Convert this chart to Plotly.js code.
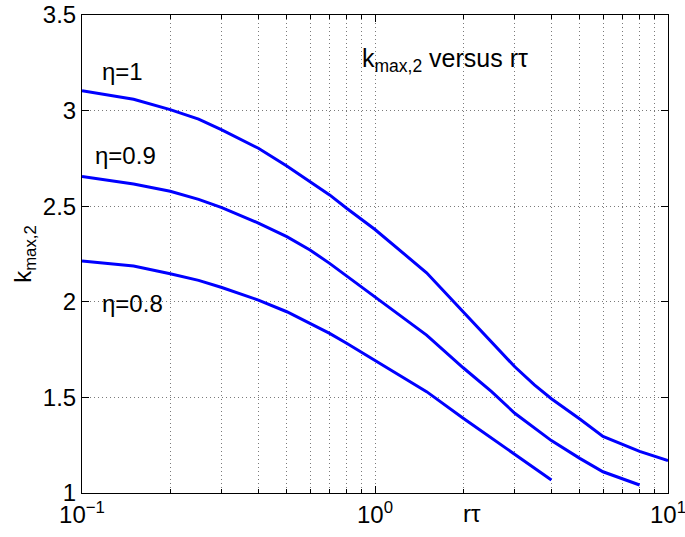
<!DOCTYPE html>
<html>
<head>
<meta charset="utf-8">
<script src="https://cdn.plot.ly/plotly-3.0.1.min.js"></script>
<style>html,body{margin:0;padding:0;background:#fff;}#chart{width:685px;height:537px;}</style>
</head>
<body>
<div id="chart"></div>
<script>
// Data
const x_eta1  = [0.1, 0.15, 0.2, 0.25, 0.3, 0.4, 0.5, 0.6, 0.7, 0.8, 0.9, 1, 1.5, 2, 2.5, 3, 3.5, 4, 5, 6, 8, 10];
const k_eta1  = [3.104, 3.059, 3.005, 2.955, 2.899, 2.803, 2.71, 2.628, 2.559, 2.489, 2.432, 2.378, 2.152, 1.95, 1.788, 1.66, 1.565, 1.493, 1.387, 1.296, 1.218, 1.169];
const x_eta09 = [0.1, 0.15, 0.2, 0.25, 0.3, 0.4, 0.5, 0.6, 0.7, 0.8, 0.9, 1, 1.5, 2, 2.5, 3, 3.5, 4, 5, 6, 8];
const k_eta09 = [2.656, 2.616, 2.578, 2.536, 2.493, 2.412, 2.341, 2.271, 2.201, 2.135, 2.08, 2.028, 1.826, 1.655, 1.53, 1.417, 1.338, 1.274, 1.181, 1.111, 1.042];
const x_eta08 = [0.1, 0.15, 0.2, 0.25, 0.3, 0.4, 0.5, 0.6, 0.7, 0.8, 0.9, 1, 1.5, 2, 2.5, 3, 3.5, 4];
const k_eta08 = [2.213, 2.187, 2.147, 2.112, 2.075, 2.009, 1.948, 1.887, 1.835, 1.783, 1.736, 1.695, 1.53, 1.391, 1.286, 1.199, 1.129, 1.068];

const xMajorTicks = [0.1, 1, 10];
const xMajorText  = ['10<sup>\u22121</sup>', '10<sup>0</sup>', '10<sup>1</sup>'];
const xMinorTicks = [0.2, 0.3, 0.4, 0.5, 0.6, 0.7, 0.8, 0.9, 2, 3, 4, 5, 6, 7, 8, 9];
const yTicks = [1, 1.5, 2, 2.5, 3, 3.5];
const yText  = ['1', '1.5', '2', '2.5', '3', '3.5'];

const curveLabels = ['\u03b7=1', '\u03b7=0.9', '\u03b7=0.8'];

const FONT = 'Liberation Sans, Arial, Helvetica, sans-serif';
const FS = 24;
const lineStyle = {color: '#0000ff', width: 3};

const traces = [
  {x: x_eta1, y: k_eta1, mode: 'lines', line: lineStyle, name: curveLabels[0]},
  {x: x_eta09, y: k_eta09, mode: 'lines', line: lineStyle, name: curveLabels[1]},
  {x: x_eta08, y: k_eta08, mode: 'lines', line: lineStyle, name: curveLabels[2]}
];

const annFont = {family: FONT, size: FS, color: '#000'};
const gridDash = '1px,3px';
const gridColor = '#7a7a7a';
const layout = {
  width: 685, height: 537,
  margin: {l: 82, r: 17, t: 15, b: 44},
  paper_bgcolor: '#fff', plot_bgcolor: '#fff',
  showlegend: false,
  font: {family: FONT, size: FS, color: '#000'},
  xaxis: {
    type: 'log', range: [-1, 1],
    tickmode: 'array', tickvals: xMajorTicks, ticktext: xMajorText,
    ticks: 'inside', ticklen: 7, tickcolor: '#000', tickwidth: 1,
    ticklabeloverflow: 'allow',
    showgrid: true, gridcolor: gridColor, griddash: gridDash, gridwidth: 1,
    minor: {tickmode: 'array', tickvals: xMinorTicks, ticks: 'inside', ticklen: 4, tickcolor: '#000',
            showgrid: true, gridcolor: gridColor, griddash: gridDash, gridwidth: 1},
    showline: true, linecolor: '#000', linewidth: 1, mirror: 'ticks',
    zeroline: false, tickfont: {family: FONT, size: FS, color: '#000'}
  },
  yaxis: {
    range: [1, 3.5],
    tickmode: 'array', tickvals: yTicks, ticktext: yText,
    ticks: 'inside', ticklen: 7, tickcolor: '#000', tickwidth: 1,
    ticklabeloverflow: 'allow',
    showgrid: true, gridcolor: gridColor, griddash: gridDash, gridwidth: 1,
    showline: true, linecolor: '#000', linewidth: 1, mirror: 'ticks',
    zeroline: false, tickfont: {family: FONT, size: FS, color: '#000'},
    title: {text: 'k<sub>max,2</sub>', font: {family: FONT, size: FS, color: '#000'}, standoff: 4}
  },
  annotations: [
    {xref: 'paper', yref: 'paper', x: 0.031, y: 0.881, xanchor: 'left', yanchor: 'middle', text: curveLabels[0], showarrow: false, font: annFont},
    {xref: 'paper', yref: 'paper', x: 0.019, y: 0.707, xanchor: 'left', yanchor: 'middle', text: curveLabels[1], showarrow: false, font: annFont},
    {xref: 'paper', yref: 'paper', x: 0.031, y: 0.397, xanchor: 'left', yanchor: 'middle', text: curveLabels[2], showarrow: false, font: annFont},
    {xref: 'paper', yref: 'paper', x: 0.474, y: 0.905, xanchor: 'left', yanchor: 'middle', text: 'k<sub>max,2</sub> versus r\u03c4', showarrow: false, font: {family: FONT, size: 25, color: '#000'}},
    {xref: 'paper', yref: 'paper', x: 0.665, y: -0.042, xanchor: 'center', yanchor: 'middle', text: 'r\u03c4', showarrow: false, font: annFont}
  ]
};

Plotly.newPlot('chart', traces, layout, {displayModeBar: false, staticPlot: true});
</script>
</body>
</html>
